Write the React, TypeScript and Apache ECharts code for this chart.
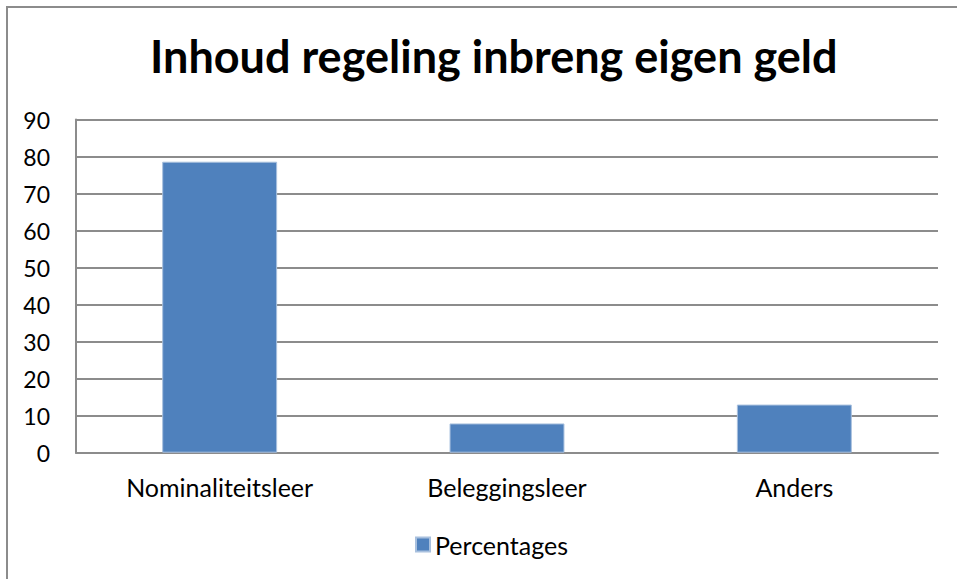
import React, { useEffect, useRef } from "react";
import * as echarts from "echarts";

const categories = ["Nominaliteitsleer", "Beleggingsleer", "Anders"];
const percentages = [78.6, 7.9, 13.0];
const seriesName = "Percentages";
const titleText = "Inhoud regeling inbreng eigen geld";

export default function App() {
  const ref = useRef<HTMLDivElement>(null);
  useEffect(() => {
    document.body.style.margin = "0";
    document.documentElement.style.overflow = "hidden";
    const chart = echarts.init(ref.current!, null, { renderer: "svg" });
    const font = "Lato, 'Open Sans', sans-serif";
    chart.setOption({
      animation: false,
      backgroundColor: "#ffffff",
      title: {
        text: titleText,
        left: 145,
        top: 28,
        textStyle: { fontFamily: font, fontSize: 45, fontWeight: "bold", color: "#000" },
      },
      graphic: [
        {
          type: "rect",
          shape: { x: 7, y: 7, width: 980, height: 600 },
          style: { fill: "none", stroke: "#8c8c8c", lineWidth: 2 },
          silent: true,
        },
      ],
      legend: {
        data: [seriesName],
        top: 532,
        left: 415,
        padding: 0,
        itemWidth: 14,
        itemHeight: 14,
        itemGap: 5,
        icon: "rect",
        textStyle: { fontFamily: font, fontSize: 25, color: "#000" },
      },
      grid: { left: 76, right: 19, top: 119.5, bottom: 126.3 },
      xAxis: {
        type: "category",
        data: categories,
        axisLine: { show: true, lineStyle: { color: "#8c8c8c", width: 2 } },
        axisTick: { show: false },
        axisLabel: { fontFamily: font, fontSize: 25, color: "#000", margin: 22 },
      },
      yAxis: {
        type: "value",
        min: 0,
        max: 90,
        interval: 10,
        axisLine: { show: true, lineStyle: { color: "#8c8c8c", width: 2 } },
        axisTick: { show: false },
        splitLine: { lineStyle: { color: "#8c8c8c", width: 2 } },
        axisLabel: { fontFamily: font, fontSize: 23, color: "#000", margin: 26 },
      },
      series: [
        {
          name: seriesName,
          type: "bar",
          data: percentages,
          barWidth: "40%",
          itemStyle: { color: "#4f81bd", borderColor: "#a8c0de", borderWidth: 1 },
        },
      ],
    });
    return () => chart.dispose();
  }, []);
  return <div ref={ref} style={{ position: "fixed", left: 0, top: 0, width: 957, height: 579 }} />;
}
